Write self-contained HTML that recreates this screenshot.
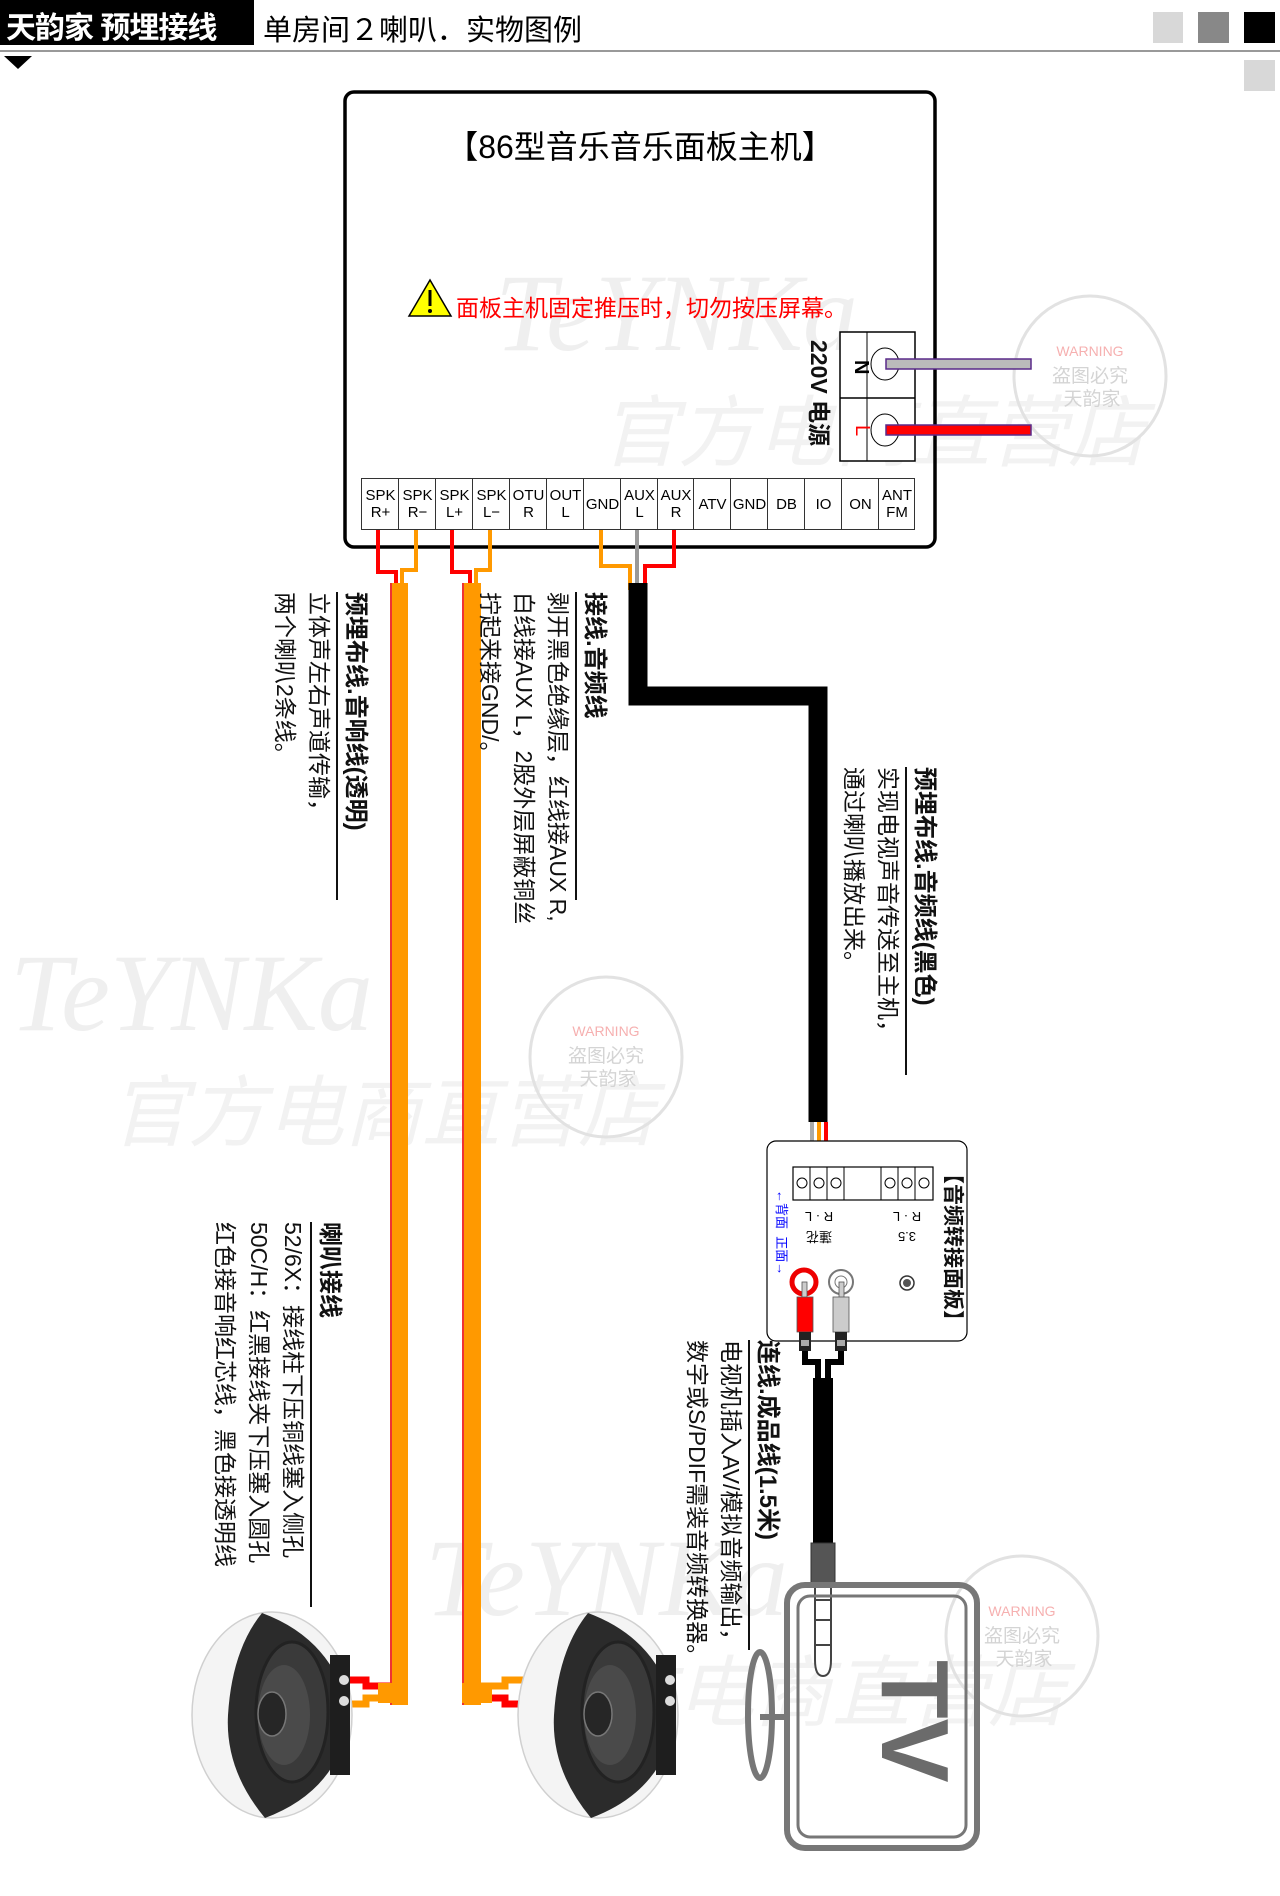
<!DOCTYPE html>
<html><head><meta charset="utf-8">
<style>
html,body{margin:0;padding:0;background:#fff;}
body{width:1280px;height:1896px;position:relative;overflow:hidden;font-family:"Liberation Sans","Noto Sans CJK SC",sans-serif;}
.abs{position:absolute;}
.rot{position:absolute;transform:rotate(90deg);transform-origin:0 0;white-space:nowrap;font-size:23px;line-height:34px;color:#111;}
.rot .t{font-weight:bold;font-size:24px;border-bottom:2px solid #111;display:inline-block;}
.cell{position:absolute;top:0;height:50px;border-left:1px solid #333;font-size:15px;line-height:17px;text-align:center;display:flex;align-items:center;justify-content:center;font-family:"Liberation Sans",sans-serif;}
</style></head><body>

<svg class="abs" style="left:0;top:0" width="1280" height="1896" viewBox="0 0 1280 1896">
<!-- watermarks -->
<g fill="#efefef" font-family="Liberation Serif,serif" font-style="italic">
<text x="495" y="350" font-size="110">TeYNKa</text>
<text x="10" y="1030" font-size="110">TeYNKa</text>
<text x="425" y="1615" font-size="110">TeYNKa</text>
</g>
<g fill="#f2f2f2" font-family="Noto Sans CJK SC,sans-serif" font-style="italic">
<text x="600" y="460" font-size="78">官方电商直营店</text>
<text x="110" y="1140" font-size="78">官方电商直营店</text>
<text x="520" y="1720" font-size="78">官方电商直营店</text>
</g>
<g fill="none" stroke="#e2e2e2" stroke-width="3">
<ellipse cx="1090" cy="376" rx="76" ry="80"/>
<ellipse cx="606" cy="1057" rx="76" ry="80"/>
<ellipse cx="1022" cy="1636" rx="76" ry="80"/>
</g>
<g font-family="Liberation Sans,Noto Sans CJK SC,sans-serif" text-anchor="middle">
<text x="1090" y="356" font-size="14" fill="#f6b0b0">WARNING</text><text x="1090" y="382" font-size="19" fill="#d4d4d4">盗图必究</text><text x="1092" y="405" font-size="19" fill="#d4d4d4">天韵家</text>
<text x="606" y="1036" font-size="14" fill="#f6b0b0">WARNING</text><text x="606" y="1062" font-size="19" fill="#d4d4d4">盗图必究</text><text x="608" y="1085" font-size="19" fill="#d4d4d4">天韵家</text>
<text x="1022" y="1616" font-size="14" fill="#f6b0b0">WARNING</text><text x="1022" y="1642" font-size="19" fill="#d4d4d4">盗图必究</text><text x="1024" y="1665" font-size="19" fill="#d4d4d4">天韵家</text>
</g>

<!-- header -->
<rect x="0" y="0" width="254" height="45" fill="#000"/>
<line x1="0" y1="51" x2="1280" y2="51" stroke="#999" stroke-width="2"/>
<polygon points="4,56 32,56 18,69" fill="#000"/>
<rect x="1153" y="12" width="30" height="31" fill="#d8d8d8"/>
<rect x="1198" y="12" width="31" height="31" fill="#888"/>
<rect x="1244" y="12" width="31" height="31" fill="#000"/>
<rect x="1244" y="60" width="31" height="31" fill="#d8d8d8"/>

<!-- main box -->
<rect x="345" y="92" width="590" height="455" rx="9" fill="none" stroke="#000" stroke-width="3.5"/>
<polygon points="430,280 409,316 451,316" fill="#ff0" stroke="#000" stroke-width="1.5"/>
<line x1="430" y1="290" x2="430" y2="306" stroke="#000" stroke-width="3"/><circle cx="430" cy="311" r="2" fill="#000"/>
<!-- power block -->
<rect x="840" y="332" width="75" height="129" fill="#fff" stroke="#000" stroke-width="1.5"/>
<line x1="840" y1="398" x2="915" y2="398" stroke="#000" stroke-width="1.5"/>
<line x1="867" y1="332" x2="867" y2="461" stroke="#000" stroke-width="1"/>
<ellipse cx="885" cy="364" rx="14" ry="16" fill="#fff" stroke="#000"/>
<ellipse cx="885" cy="430" rx="14" ry="16" fill="#fff" stroke="#000"/>
<rect x="886" y="359" width="145" height="10" fill="#bbb" stroke="#5a2a8a" stroke-width="1.5"/>
<rect x="886" y="425" width="145" height="10" fill="#f00" stroke="#5a2a8a" stroke-width="1.5"/>
<text x="847" y="368" font-size="20" font-weight="bold" font-family="Liberation Sans" transform="rotate(90 855 368)" >N</text>
<text x="849" y="432" font-size="20" font-family="Liberation Sans" fill="#f00" transform="rotate(90 856 432)">L</text>

<!-- SPK wires -->
<g fill="none" stroke-width="4" stroke-linejoin="miter">
<polyline points="378,528 378,572 396,572 396,590" stroke="#f00"/>
<polyline points="416,528 416,570 402,570 402,590" stroke="#f90"/>
<polyline points="452,528 452,572 470,572 470,590" stroke="#f00"/>
<polyline points="490,528 490,570 476,570 476,590" stroke="#f90"/>
<polyline points="601,528 601,566 630,566 630,590" stroke="#f90"/>
<polyline points="637,528 637,590" stroke="#999"/>
<polyline points="674,528 674,566 645,566 645,590" stroke="#f00"/>
</g>
<rect x="390" y="583" width="18" height="1122" fill="#f90"/><line x1="391" y1="583" x2="391" y2="1705" stroke="#e33" stroke-width="2"/>
<rect x="462" y="583" width="19" height="1122" fill="#f90"/><line x1="463" y1="583" x2="463" y2="1705" stroke="#e33" stroke-width="2"/>
<g fill="none" stroke-width="7">
<polyline points="390,1686 366,1686 366,1680 346,1680" stroke="#f00"/>
<polyline points="390,1698 366,1698 366,1704 352,1704" stroke="#f90"/>
<polyline points="481,1686 505,1686 505,1680 530,1680" stroke="#f90"/>
<polyline points="481,1698 505,1698 505,1704 525,1704" stroke="#f00"/>
</g>
<rect x="378" y="1683" width="30" height="20" fill="#f90"/>
<rect x="462" y="1683" width="30" height="20" fill="#f90"/>
<polyline points="638,583 638,696 818,696 818,1122" fill="none" stroke="#000" stroke-width="19"/>
<g fill="none" stroke-width="4">
<polyline points="812,1122 812,1145 803,1160 803,1182" stroke="#aaa"/>
<polyline points="819,1122 819,1182" stroke="#f90"/>
<polyline points="826,1122 826,1145 835,1160 835,1182" stroke="#f00"/>
</g>

<!-- adapter panel -->
<rect x="767" y="1141" width="200" height="200" rx="9" fill="#fff" stroke="#000" stroke-width="1.2"/>
<rect x="793" y="1167" width="140" height="33" fill="none" stroke="#000" stroke-width="1.2"/>
<g stroke="#000" stroke-width="1" fill="none">
<line x1="810" y1="1167" x2="810" y2="1200"/><line x1="827" y1="1167" x2="827" y2="1200"/><line x1="844" y1="1167" x2="844" y2="1200"/>
<line x1="881" y1="1167" x2="881" y2="1200"/><line x1="898" y1="1167" x2="898" y2="1200"/><line x1="915" y1="1167" x2="915" y2="1200"/>
<circle cx="802" cy="1183" r="5"/><circle cx="819" cy="1183" r="5"/><circle cx="836" cy="1183" r="5"/>
<circle cx="890" cy="1183" r="5"/><circle cx="907" cy="1183" r="5"/><circle cx="924" cy="1183" r="5"/>
</g>
<g font-family="Liberation Sans,Noto Sans CJK SC,sans-serif" font-size="13" text-anchor="middle" fill="#000">
<text transform="translate(819,1212) rotate(180)">R · L</text>
<text transform="translate(819,1232) rotate(180)">蓮花</text>
<text transform="translate(907,1212) rotate(180)">R · L</text>
<text transform="translate(907,1232) rotate(180)">3.5</text>
</g>
<circle cx="804" cy="1282" r="12" fill="#fff" stroke="#e00" stroke-width="5"/>
<circle cx="841" cy="1282" r="12" fill="#fff" stroke="#777" stroke-width="2"/><circle cx="841" cy="1282" r="6" fill="#fff" stroke="#777"/>
<circle cx="907" cy="1283" r="7" fill="#fff" stroke="#333" stroke-width="1.5"/><circle cx="907" cy="1283" r="4" fill="#555"/>
<rect x="802" y="1282" width="5" height="16" fill="#ccc" stroke="#555" stroke-width="0.8"/>
<rect x="839" y="1282" width="5" height="16" fill="#ccc" stroke="#555" stroke-width="0.8"/>
<rect x="797" y="1297" width="16" height="35" fill="#f00" stroke="#555" stroke-width="0.8"/>
<rect x="833" y="1297" width="16" height="35" fill="#ccc" stroke="#555" stroke-width="0.8"/>
<rect x="799" y="1332" width="12" height="19" fill="#222"/><rect x="835" y="1332" width="12" height="19" fill="#222"/>
<rect x="801" y="1340" width="8" height="6" fill="#aaa"/><rect x="837" y="1340" width="8" height="6" fill="#aaa"/>
<polyline points="805,1351 805,1362 818,1362 818,1380" fill="none" stroke="#000" stroke-width="6"/>
<polyline points="841,1351 841,1362 828,1362 828,1380" fill="none" stroke="#000" stroke-width="6"/>
<rect x="813" y="1378" width="20" height="166" fill="#000"/>
<rect x="811" y="1543" width="24" height="40" fill="#555" stroke="#333"/>
<path d="M815,1583 L815,1660 Q815,1676 823,1676 Q831,1676 831,1660 L831,1583 Z" fill="#fff" stroke="#444" stroke-width="2"/>
<line x1="815" y1="1600" x2="831" y2="1600" stroke="#444" stroke-width="2"/>
<line x1="815" y1="1620" x2="831" y2="1620" stroke="#444" stroke-width="2"/>
<line x1="815" y1="1645" x2="831" y2="1645" stroke="#444" stroke-width="2"/>

<!-- TV -->
<rect x="787" y="1585" width="190" height="263" rx="18" fill="none" stroke="#777" stroke-width="6"/>
<rect x="798" y="1596" width="168" height="241" rx="12" fill="none" stroke="#777" stroke-width="3"/>
<ellipse cx="760" cy="1715" rx="12" ry="63" fill="none" stroke="#777" stroke-width="6"/>
<line x1="760" y1="1717" x2="787" y2="1717" stroke="#777" stroke-width="6"/>
<text font-family="Liberation Sans,sans-serif" font-size="96" font-weight="bold" fill="#6b6b6b" transform="translate(882,1660) rotate(90)">TV</text>

<!-- speakers -->
<g id="spk">
<ellipse cx="272" cy="1715" rx="80" ry="103" fill="#f4f4f4" stroke="#d0d0d0" stroke-width="1.5"/>
<path d="M262,1613 Q335,1640 350,1715 Q340,1790 265,1818 Q225,1770 228,1715 Q232,1650 262,1613 Z" fill="#2b2b2b"/>
<rect x="330" y="1655" width="20" height="120" fill="#1e1e1e"/>
<ellipse cx="292" cy="1712" rx="36" ry="70" fill="#3a3a3a" stroke="#222" stroke-width="3"/>
<ellipse cx="284" cy="1715" rx="26" ry="50" fill="#4a4a4a"/>
<ellipse cx="272" cy="1714" rx="14" ry="22" fill="#262626" stroke="#777" stroke-width="1.5"/>
<circle cx="344" cy="1680" r="5" fill="#ddd"/><circle cx="344" cy="1701" r="5" fill="#ddd"/>
</g>
<use href="#spk" transform="translate(326,0)"/>
</svg>

<div class="abs" style="left:6px;top:3px;font-size:30px;color:#fff;font-weight:bold;letter-spacing:-1px;white-space:nowrap;">天韵家 预埋接线</div>
<div class="abs" style="left:263px;top:7px;font-size:29px;color:#000;white-space:nowrap;">单房间２喇叭．实物图例</div>

<div class="abs" style="left:345px;width:590px;top:122px;text-align:center;font-size:32px;color:#000;">【86型音乐音乐面板主机】</div>
<div class="abs" style="left:456px;top:289px;font-size:23px;color:#f00;white-space:nowrap;">面板主机固定推压时，切勿按压屏幕。</div>
<div class="rot" style="left:832px;top:340px;font-size:23px;font-weight:bold;line-height:26px;">220V 电源</div>

<div class="abs" style="left:361px;top:478px;width:553px;height:50px;border:1.5px solid #333;border-left:none;background:#fff;">
<div class="cell" style="left:0;width:37px">SPK<br>R+</div>
<div class="cell" style="left:37px;width:37px">SPK<br>R−</div>
<div class="cell" style="left:74px;width:37px">SPK<br>L+</div>
<div class="cell" style="left:111px;width:37px">SPK<br>L−</div>
<div class="cell" style="left:148px;width:37px">OTU<br>R</div>
<div class="cell" style="left:185px;width:37px">OUT<br>L</div>
<div class="cell" style="left:222px;width:37px">GND</div>
<div class="cell" style="left:259px;width:37px">AUX<br>L</div>
<div class="cell" style="left:296px;width:36px">AUX<br>R</div>
<div class="cell" style="left:332px;width:37px">ATV</div>
<div class="cell" style="left:369px;width:37px">GND</div>
<div class="cell" style="left:406px;width:37px">DB</div>
<div class="cell" style="left:443px;width:37px">IO</div>
<div class="cell" style="left:480px;width:37px">ON</div>
<div class="cell" style="left:517px;width:36px">ANT<br>FM</div>
</div>

<div class="rot" style="left:373px;top:592px;"><div class="t" style="width:308px">预埋布线.音响线(透明)</div><div>立体声左右声道传输，</div><div>两个喇叭2条线。</div></div>
<div class="rot" style="left:612px;top:592px;"><div class="t" style="width:308px">接线.音频线</div><div>剥开黑色绝缘层，红线接AUX R,</div><div>白线接AUX L，2股外层屏蔽铜丝</div><div>拧起来接GND/。</div></div>
<div class="rot" style="left:942px;top:767px;"><div class="t" style="width:308px">预埋布线.音频线(黑色)</div><div>实现电视声音传送至主机，</div><div>通过喇叭播放出来。</div></div>
<div class="rot" style="left:347px;top:1222px;"><div class="t" style="width:385px">喇叭接线</div><div>52/6X：接线柱下压铜线塞入侧孔</div><div>50C/H：红黑接线夹下压塞入圆孔</div><div>红色接音响红芯线，黑色接透明线</div></div>
<div class="rot" style="left:785px;top:1340px;"><div class="t" style="width:310px">连线.成品线(1.5米)</div><div>电视机插入AV/模拟音频输出，</div><div>数字或S/PDIF需装音频转换器。</div></div>

<div class="rot" style="left:965px;top:1163px;font-size:21px;font-weight:bold;line-height:26px;">【音频转接面板】</div>
<div class="rot" style="left:790px;top:1190px;font-size:13px;line-height:18px;color:#00f;">←背面&nbsp;&nbsp;正面→</div>
</body></html>
